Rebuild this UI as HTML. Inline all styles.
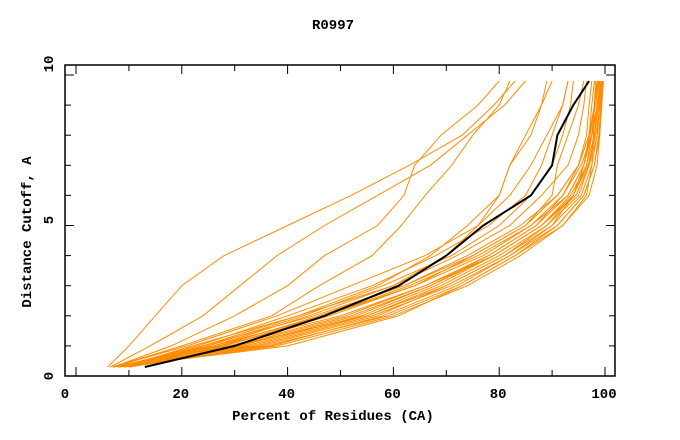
<!DOCTYPE html>
<html><head><meta charset="utf-8"><style>
body{margin:0;background:#fff;}
svg{display:block;font-family:"Liberation Mono",monospace;font-weight:bold;}
</style></head><body>
<svg id="chart" width="680" height="440">
<text x="333" y="29" font-size="14" text-anchor="middle">R0997</text>
<rect x="65" y="65" width="550" height="311" fill="none" stroke="#000" stroke-width="1.5"/>
<g id="ticks"></g>
<g id="series"></g>
<text x="333" y="420" font-size="14" text-anchor="middle">Percent of Residues (CA)</text>
<text transform="translate(31,232) rotate(-90)" font-size="14" text-anchor="middle">Distance Cutoff, A</text>
</svg>
<script>
const yLevels=[0.3,1,2,3,4,5,6,7,8,9,9.8];
const xTickLabels=[0,20,40,60,80,100];
const yTickLabels=[0,5,10];
const orangeCurves=[
[7,30,52,67,79,88,94,96.5,97.5,98,98.5],
[8,33,55,69,80,89,95,97,98,98.5,99],
[8,35,57,70,81,90,95.5,97.5,98.5,99,99.3],
[9,37,58,72,82,91,96,98,98.8,99.2,99.5],
[7,27,50,66,78,87,93,96,97,97.5,98],
[8,40,61,73,83,92,96.5,97.5,97.8,98,98.2],
[9,38,60,74,84,92,97,98.5,99,99.3,99.6],
[10,32,54,68,79,88,94.5,97,98.5,99,99.4],
[8,28,48,64,77,86,93,96,97.5,98.5,99],
[9,31,53,67,78,87,92,95,97,98,98.7],
[7,26,47,63,76,86,92,95.5,97.5,98.7,99.2],
[8,34,56,71,82,90,94,96,97.2,98,98.6],
[10,36,59,73,83,91,96,98,99,99.4,99.7],
[8,29,51,66,79,88,93.5,96.5,98,98.8,99.3],
[9,24,45,62,75,85,91,95,97,98.2,98.8],
[7,30,55,70,81,89,94,96.8,98.2,99.1,99.5],
[8,25,43,58,71,80,86,90,92,93.5,94],
[9,22,42,60,72,82,88,93,95,96,96.5],
[7,27,46,62,74,84,91,95,96.5,97,97.5],
[10,28,47,64,75,85,90,91,93,95,96],
[8,23,40,56,68,78,85,88,90,92,93],
[9,26,44,60,70,76,80,82,86,88,89],
[8,24,42,57,67,74,80,82,85,88,90],
[7,21,38,52,66,76,82,86,89,92,93],
[6,10,15,20,28,40,52,63,73,79,83],
[6.5,14,24,31,38,47,57,67,74,81,85],
[7,18,30,40,47,57,62,64,69,76,80],
[7,20,37,46,56,61.5,66,71,75,80,82]
];
const blackCurve=[13,30,47,61,70,77,86,90,91,94,97];

const NS="http://www.w3.org/2000/svg";
const xs=v=>76+v*5.29;
const ys=v=>376-v*30.1;
const ticks=document.getElementById('ticks');
const series=document.getElementById('series');
function mk(tag,attrs,parent){const e=document.createElementNS(NS,tag);for(const k in attrs)e.setAttribute(k,attrs[k]);parent.appendChild(e);return e;}
for(let v=0;v<=100;v+=10){
  const len=v%20===0?9:6;
  const t1=mk('line',{x1:xs(v),x2:xs(v),y1:376,y2:376-len,stroke:'#000','stroke-width':1},ticks);
  
  
  const t2=mk('line',{x1:xs(v),x2:xs(v),y1:65,y2:65+len,stroke:'#000','stroke-width':1},ticks);
  
  
}
xTickLabels.forEach(v=>{
  const px=v===0?65:xs(v)-1;
  const t=mk('text',{x:px,y:398,'font-size':14,'text-anchor':'middle'},ticks);
  t.textContent=v;
  
  
});
for(let v=0;v<=10;v++){
  const len=v%5===0?9:6;
  const t1=mk('line',{x1:65,x2:65+len,y1:ys(v),y2:ys(v),stroke:'#000','stroke-width':1},ticks);
  
  
  const t2=mk('line',{x1:615,x2:615-len,y1:ys(v),y2:ys(v),stroke:'#000','stroke-width':1},ticks);
  
  
}
yTickLabels.forEach(v=>{
  const py=v===0?376:(v===10?64:220);
  const t=mk('text',{transform:`translate(53,${py}) rotate(-90)`,'font-size':14,'text-anchor':'middle'},ticks);
  t.textContent=v;
  
  
});
function pts(arr){return arr.map((x,i)=>xs(x).toFixed(1)+','+ys(yLevels[i]).toFixed(1)).join(' ');}
orangeCurves.forEach(c=>{
  const p=mk('polyline',{points:pts(c),fill:'none',stroke:'#ff8c00','stroke-width':1},series);
  
  
});
const b=mk('polyline',{points:pts(blackCurve),fill:'none',stroke:'#000','stroke-width':2},series);


</script>
</body></html>
